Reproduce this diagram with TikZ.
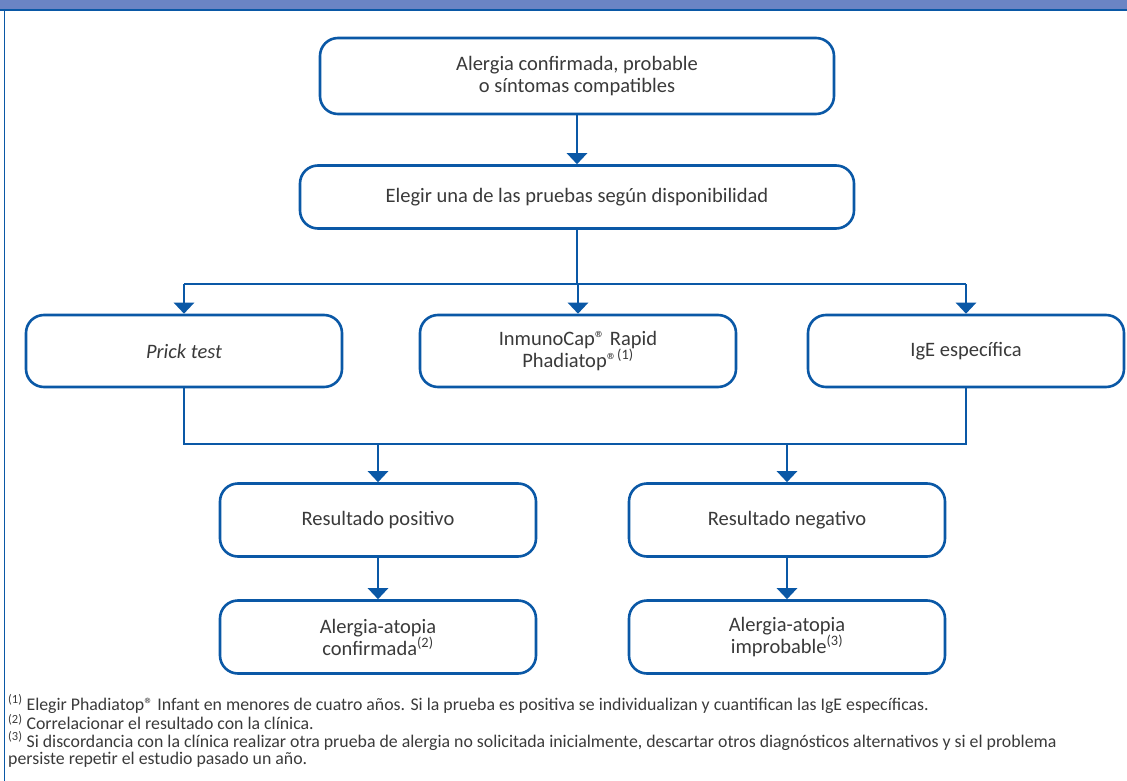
\documentclass[tikz,border=0pt]{standalone}
\usepackage{fontspec}
\setmainfont{Carlito}
\usetikzlibrary{arrows.meta}
\definecolor{bl}{HTML}{0A58A6}
\definecolor{hdr}{HTML}{6B84C4}
\definecolor{txt}{HTML}{3A3A3A}
\begin{document}
\begin{tikzpicture}[x=1pt,y=-1pt,
  box/.style={draw=bl, line width=2.6pt, rounded corners=18pt, fill=white, text=txt,
    font=\fontsize{20.5}{22}\selectfont, align=center, inner sep=0pt},
  arr/.style={draw=bl, line width=2.6pt, -{Triangle[width=20pt,length=11pt]}},
  ln/.style={draw=bl, line width=2.6pt},
  note/.style={anchor=west, text=txt, inner sep=0pt, font=\fontsize{17.8}{19}\selectfont}]
\useasboundingbox (0,0) rectangle (1127,781);
\fill[hdr] (0,0) rectangle (1127,9.5);
\draw[bl, line width=1.8pt] (0,10.2) -- (1127,10.2);
\draw[bl, line width=1.4pt] (4.5,10) -- (4.5,781);
% boxes
\node[box, minimum width=514pt, minimum height=76pt] (a) at (577,76) {Alergia confirmada, probable\\o síntomas compatibles};
\node[box, minimum width=554pt, minimum height=63pt] (b) at (577,197) {Elegir una de las pruebas según disponibilidad};
\node[box, minimum width=316pt, minimum height=72pt] (p) at (184,351) {\itshape Prick test};
\node[box, minimum width=316pt, minimum height=72pt] (m) at (578,351) {InmunoCap® Rapid\\Phadiatop®\textsuperscript{(1)}};
\node[box, minimum width=316pt, minimum height=72pt] (g) at (966,351) {IgE específica};
\node[box, minimum width=316pt, minimum height=73pt] (pos) at (378,520) {Resultado positivo};
\node[box, minimum width=316pt, minimum height=73pt] (neg) at (787,520) {Resultado negativo};
\node[box, minimum width=316pt, minimum height=73pt] (ac) at (378,637) {Alergia-atopia\\confirmada\textsuperscript{(2)}};
\node[box, minimum width=316pt, minimum height=73pt] (ai) at (787,637) {Alergia-atopia\\improbable\textsuperscript{(3)}};
% connectors
\coordinate (br) at (578,284);
\coordinate (jn) at (578,444);
\draw[arr] (a.south) -- (b.north);
\draw[ln] (b.south) -- (b.south |- br);
\draw[ln] (p.north |- br) -- (g.north |- br);
\draw[arr] (p.north |- br) -- (p.north);
\draw[arr] (m.north |- br) -- (m.north);
\draw[arr] (g.north |- br) -- (g.north);
\draw[ln] (p.south) -- (p.south |- jn) -- (g.south |- jn) -- (g.south);
\draw[arr] (pos.north |- jn) -- (pos.north);
\draw[arr] (neg.north |- jn) -- (neg.north);
\draw[arr] (pos.south) -- (ac.north);
\draw[arr] (neg.south) -- (ai.north);
% notes
\node[note] (n1) at (8,704) {\textsuperscript{(1)} Elegir Phadiatop® Infant en menores de cuatro años. Si la prueba es positiva se individualizan y cuantifican las IgE específicas.};
\node[note] (n2) at (8,722) {\textsuperscript{(2)} Correlacionar el resultado con la clínica.};
\node[note] (n3) at (8,741) {\textsuperscript{(3)} Si discordancia con la clínica realizar otra prueba de alergia no solicitada inicialmente, descartar otros diagnósticos alternativos y si el problema};
\node[note] (n4) at (8,760) {persiste repetir el estudio pasado un año.};
\end{tikzpicture}
\end{document}
